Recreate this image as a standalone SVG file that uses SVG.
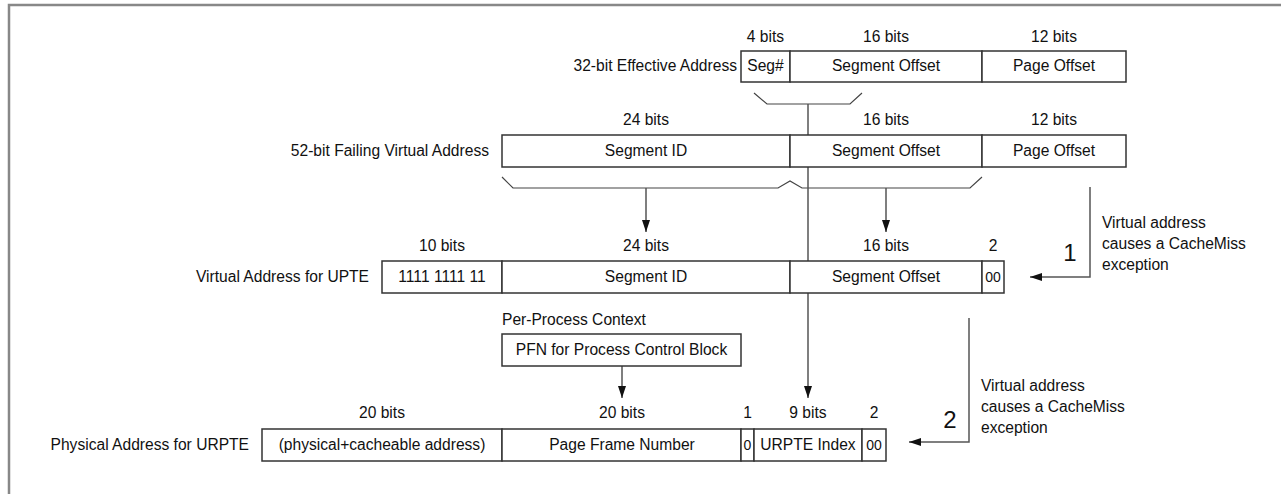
<svg xmlns="http://www.w3.org/2000/svg" width="1281" height="494" viewBox="0 0 1281 494">
<defs>
<style>
text{font-family:"Liberation Sans",Arial,sans-serif;font-size:15.6px;fill:#111}
.c{text-anchor:middle}
.r{text-anchor:end}
.big{font-size:24px}
.sm{font-size:14px}
.box{fill:#fff;stroke:#333;stroke-width:1.5}
.ln{fill:none;stroke:#555;stroke-width:1.5}
.br{fill:none;stroke:#444;stroke-width:1.2}
.frame{fill:none;stroke:#888;stroke-width:2.5}
</style>
<marker id="ah" viewBox="0 0 12 8" refX="12" refY="4" markerWidth="12" markerHeight="8" markerUnits="userSpaceOnUse" orient="auto">
<path d="M0,0 L12,4 L0,8 Z" fill="#111"/>
</marker>
</defs>
<rect width="1281" height="494" fill="#fff"/>
<path class="frame" d="M9,494 L9,5 L1281,5"/>

<g id="connectors">
<path class="br" d="M754,93 L767,104 L850,104 L862,93"/>
<path class="br" d="M502,177 L513,188 L778,188 L790,181 L802,188 L970,188 L982,177"/>
<line class="ln" x1="808" y1="104" x2="808" y2="398" marker-end="url(#ah)"/>
<line class="ln" x1="646" y1="188" x2="646" y2="232" marker-end="url(#ah)"/>
<line class="ln" x1="886" y1="188" x2="886" y2="232" marker-end="url(#ah)"/>
<line class="ln" x1="622" y1="366" x2="622" y2="398" marker-end="url(#ah)"/>
<path class="ln" d="M1090,187 L1090,277 L1030,277" marker-end="url(#ah)"/>
<path class="ln" d="M969,318 L969,442 L909,442" marker-end="url(#ah)"/>
</g>

<g id="effective-address">
<text class="r" x="737" y="71">32-bit Effective Address</text>
<text class="c" x="765.5" y="42">4 bits</text>
<text class="c" x="886" y="42">16 bits</text>
<text class="c" x="1054" y="42">12 bits</text>
<rect class="box" x="741" y="51" width="49" height="31"/>
<rect class="box" x="790" y="51" width="192" height="31"/>
<rect class="box" x="982" y="51" width="144" height="31"/>
<text class="c" x="765.5" y="71">Seg#</text>
<text class="c" x="886" y="71">Segment Offset</text>
<text class="c" x="1054" y="71">Page Offset</text>
</g>

<g id="failing-virtual-address">
<text class="r" x="489" y="156">52-bit Failing Virtual Address</text>
<text class="c" x="646" y="125">24 bits</text>
<text class="c" x="886" y="125">16 bits</text>
<text class="c" x="1054" y="125">12 bits</text>
<rect class="box" x="502" y="135" width="288" height="32"/>
<rect class="box" x="790" y="135" width="192" height="32"/>
<rect class="box" x="982" y="135" width="144" height="32"/>
<text class="c" x="646" y="156">Segment ID</text>
<text class="c" x="886" y="156">Segment Offset</text>
<text class="c" x="1054" y="156">Page Offset</text>
</g>

<g id="virtual-address-upte">
<text class="r" x="369" y="282">Virtual Address for UPTE</text>
<text class="c" x="442" y="251">10 bits</text>
<text class="c" x="646" y="251">24 bits</text>
<text class="c" x="886" y="251">16 bits</text>
<text class="c" x="993" y="251">2</text>
<rect class="box" x="382" y="261" width="120" height="32"/>
<rect class="box" x="502" y="261" width="288" height="32"/>
<rect class="box" x="790" y="261" width="192" height="32"/>
<rect class="box" x="982" y="261" width="22" height="32"/>
<text class="c" x="442" y="282">1111 1111 11</text>
<text class="c" x="646" y="282">Segment ID</text>
<text class="c" x="886" y="282">Segment Offset</text>
<text class="c sm" x="993" y="282">00</text>
</g>

<g id="per-process-context">
<text x="502" y="325">Per-Process Context</text>
<rect class="box" x="502" y="334" width="239" height="32"/>
<text class="c" x="621.5" y="355">PFN for Process Control Block</text>
</g>

<g id="physical-address-urpte">
<text class="r" x="249" y="450">Physical Address for URPTE</text>
<text class="c" x="382" y="418">20 bits</text>
<text class="c" x="622" y="418">20 bits</text>
<text class="c" x="747.5" y="418">1</text>
<text class="c" x="808" y="418">9 bits</text>
<text class="c" x="874" y="418">2</text>
<rect class="box" x="262" y="429" width="240" height="32"/>
<rect class="box" x="502" y="429" width="239" height="32"/>
<rect class="box" x="741" y="429" width="13" height="32"/>
<rect class="box" x="754" y="429" width="108" height="32"/>
<rect class="box" x="862" y="429" width="24" height="32"/>
<text class="c" x="382" y="450">(physical+cacheable address)</text>
<text class="c" x="622" y="450">Page Frame Number</text>
<text class="c sm" x="747.5" y="450">0</text>
<text class="c" x="808" y="450">URPTE Index</text>
<text class="c sm" x="874" y="450">00</text>
</g>

<g id="note-1">
<text class="c big" x="1070" y="261">1</text>
<text x="1102" y="228">Virtual address</text>
<text x="1102" y="249">causes a CacheMiss</text>
<text x="1102" y="270">exception</text>
</g>

<g id="note-2">
<text class="c big" x="950" y="428">2</text>
<text x="981" y="391">Virtual address</text>
<text x="981" y="412">causes a CacheMiss</text>
<text x="981" y="433">exception</text>
</g>
</svg>
